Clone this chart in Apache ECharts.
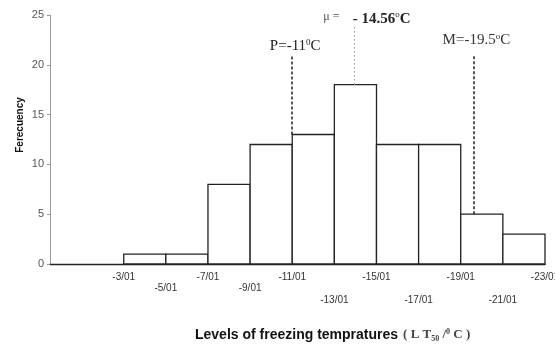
<!DOCTYPE html>
<html>
<head>
<meta charset="utf-8">
<script src="https://cdn.jsdelivr.net/npm/echarts@6/dist/echarts.min.js"></script>
<style>
  html, body { margin: 0; padding: 0; background: #fff; }
  #chart { width: 555px; height: 350px; }
</style>
</head>
<body>
<div id="chart"></div>
<script>
// bin edges (as |temperature|) and the frequency in each bin
var edges = [3, 5, 7, 9, 11, 13, 15, 17, 19, 21, 23];
var freq = [1, 1, 8, 12, 13, 18, 12, 12, 5, 3];
var tickLabels = ['-3/01', '-5/01', '-7/01', '-9/01', '-11/01', '-13/01',
  '-15/01', '-17/01', '-19/01', '-21/01', '-23/01'];

// marker lines: x position, from y, to y
var markerX = [11, 13.93, 19.6];
var markerFrom = [13, 18, 5];
var markerTo = [21, 23.8, 21];

var serif = '"Liberation Serif", "Times New Roman", serif';
var sans = '"Liberation Sans", Arial, sans-serif';

var bins = [];
for (var i = 0; i < freq.length; i++) {
  bins.push([edges[i], edges[i + 1], freq[i]]);
}

var chart = echarts.init(document.getElementById('chart'));

var option = {
  animation: false,
  backgroundColor: '#fff',
  grid: { left: 50, right: 10, top: 15, bottom: 86, containLabel: false, outerBoundsMode: 'none' },
  title: {
    left: 195,
    top: 326,
    padding: 0,
    text: '{a|Levels of freezing tempratures} {b|( L T}{sub|50}{b| /}{sup|0}{b| C )}',
    textStyle: {
      rich: {
        a: { fontFamily: sans, fontWeight: 'bold', fontSize: 14, color: '#111' },
        b: { fontFamily: serif, fontSize: 13, color: '#444' },
        sub: { fontFamily: serif, fontSize: 8, color: '#444', padding: [7, 0, 0, 0] },
        sup: { fontFamily: serif, fontSize: 8, color: '#444', padding: [0, 0, 7, 0] }
      }
    }
  },
  graphic: [{
    type: 'text',
    x: 20,
    y: 125,
    rotation: Math.PI / 2,
    style: {
      text: 'Ferecuency',
      fontFamily: sans,
      fontWeight: 'bold',
      fontSize: 10,
      fill: '#111',
      align: 'center',
      verticalAlign: 'middle'
    }
  }],
  xAxis: {
    type: 'value',
    min: -0.5,
    max: 23,
    splitLine: { show: false },
    axisTick: { show: false },
    axisLine: { onZero: false, lineStyle: { color: '#222', width: 1.3 } },
    axisLabel: {
      customValues: edges,
      margin: 8,
      fontFamily: sans,
      fontSize: 10,
      color: '#333',
      formatter: function (v) {
        var idx = edges.indexOf(v);
        if (idx < 0) return '';
        var row = idx % 2 === 0 ? 'r0' : (idx < 5 ? 'r1' : 'r2');
        return '{' + row + '|' + tickLabels[idx] + '}';
      },
      rich: {
        r0: { fontFamily: sans, fontSize: 10, color: '#333' },
        r1: { fontFamily: sans, fontSize: 10, color: '#333', padding: [11, 0, 0, 0] },
        r2: { fontFamily: sans, fontSize: 10, color: '#333', padding: [23, 0, 0, 0] }
      }
    }
  },
  yAxis: {
    type: 'value',
    min: 0,
    max: 25,
    interval: 5,
    splitLine: { show: false },
    axisLine: { show: true, onZero: false, lineStyle: { color: '#999', width: 1 } },
    axisTick: { show: true, length: 3, lineStyle: { color: '#999' } },
    axisLabel: { margin: 6, fontFamily: sans, fontSize: 11, color: '#555' }
  },
  series: [{
    type: 'custom',
    data: bins,
    encode: { x: [0, 1], y: 2 },
    renderItem: function (params, api) {
      var p0 = api.coord([api.value(0), 0]);
      var p1 = api.coord([api.value(1), api.value(2)]);
      return {
        type: 'rect',
        shape: { x: p0[0], y: p1[1], width: p1[0] - p0[0], height: p0[1] - p1[1] },
        style: { fill: '#fff', stroke: '#222', lineWidth: 1.3 }
      };
    },
    markLine: {
      silent: true,
      symbol: 'none',
      label: { show: false },
      data: [
        [{ coord: [markerX[0], markerFrom[0]], lineStyle: { color: '#222', type: [3, 2], width: 1.5 } },
         { coord: [markerX[0], markerTo[0]] }],
        [{ coord: [markerX[1], markerFrom[1]], lineStyle: { color: '#aaa', type: [2, 2], width: 1 } },
         { coord: [markerX[1], markerTo[1]] }],
        [{ coord: [markerX[2], markerFrom[2]], lineStyle: { color: '#222', type: [3, 2], width: 1.5 } },
         { coord: [markerX[2], markerTo[2]] }]
      ]
    },
    markPoint: {
      silent: true,
      symbol: 'circle',
      symbolSize: 0,
      label: { show: true, position: 'inside' },
      data: [
        {
          coord: [markerX[0], markerTo[0]],
          label: {
            offset: [3, -9],
            formatter: '{t|P=-11}{s|0}{t|C}',
            rich: {
              t: { fontFamily: serif, fontSize: 15, color: '#222' },
              s: { fontFamily: serif, fontSize: 9, color: '#222', verticalAlign: 'top', padding: [0, 0, 7, 0] }
            }
          }
        },
        {
          coord: [markerX[1], markerTo[1]],
          label: {
            offset: [13, -8],
            formatter: '{m|\u03bc =}    {v|- 14.56}{d|o}{v|C}',
            rich: {
              m: { fontFamily: serif, fontSize: 12, color: '#555', padding: [0, 0, 5, 0] },
              v: { fontFamily: serif, fontWeight: 'bold', fontSize: 15, color: '#222' },
              d: { fontFamily: serif, fontSize: 9, color: '#222', verticalAlign: 'top', padding: [0, 0, 7, 0] }
            }
          }
        },
        {
          coord: [markerX[2], markerTo[2]],
          label: {
            offset: [3, -15],
            formatter: '{t|M=-19.5}{s|o}{t|C}',
            rich: {
              t: { fontFamily: serif, fontSize: 15, color: '#333' },
              s: { fontFamily: serif, fontSize: 9, color: '#333', verticalAlign: 'top', padding: [0, 0, 7, 0] }
            }
          }
        }
      ]
    }
  }]
};

chart.setOption(option);
window.onresize = chart.resize;
</script>
</body>
</html>
